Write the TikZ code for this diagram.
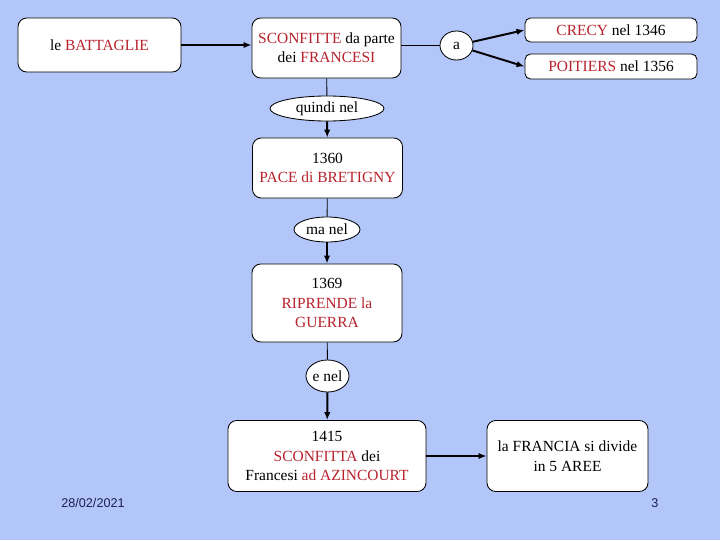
\documentclass[tikz,border=0pt]{standalone}
\usepackage{fontspec}
\setmainfont{Liberation Serif}
\newfontfamily\footfont{Liberation Sans}
\usetikzlibrary{arrows.meta,shapes.geometric}
\definecolor{slidebg}{RGB}{178,198,250}
\definecolor{dred}{RGB}{185,35,45}
\definecolor{footcol}{RGB}{30,30,80}
\newcommand{\rd}[1]{\textcolor{dred}{#1}}

\begin{document}
\begin{tikzpicture}[
      x=0.025cm, y=-0.025cm,
      font=\fontsize{11}{13.8}\selectfont,
      box/.style={draw, fill=white, rounded corners=0.22cm, align=center,
                  inner sep=1pt, line width=0.6pt},
      slim/.style={box, rounded corners=0.14cm},
      oval/.style={draw, fill=white, ellipse, inner sep=0pt, line width=0.6pt},
      flow/.style={-{Latex[length=2mm, width=1.6mm]}, line width=1.4pt},
      link/.style={line width=0.6pt},
      foot/.style={font=\footfont\fontsize{9}{11}\selectfont, text=footcol}
    ]
    % --- slide background ------------------------------------------------------
    \fill[slidebg] (0,0) rectangle (720,540);
    \useasboundingbox (0,0) rectangle (720,540);

    % --- top row ---------------------------------------------------------------
    \node[box, minimum width=4.075cm, minimum height=1.35cm] (batt) at (99.5,45)
      {le \rd{BATTAGLIE}};
    \node[box, minimum width=3.725cm, minimum height=1.5cm] (sconf) at (326.5,48)
      {\rd{SCONFITTE} da parte\\dei \rd{FRANCESI}};
    \node[oval, minimum width=0.825cm, minimum height=0.725cm] (a) at (456.5,45.5)
      {a};
    \node[slim, minimum width=4.3cm, minimum height=0.6cm] (crecy) at (611,30)
      {\rd{CRECY} nel 1346};
    \node[slim, minimum width=4.3cm, minimum height=0.625cm] (poit) at (611,66.5)
      {\rd{POITIERS} nel 1356};

    % --- vertical chain --------------------------------------------------------
    \node[oval, minimum width=2.85cm, minimum height=0.625cm] (quindi) at (327,108.5)
      {quindi nel};
    \node[box, minimum width=3.75cm, minimum height=1.5cm] (pace) at (327.5,168)
      {1360\\\rd{PACE di BRETIGNY}};
    \node[oval, minimum width=1.65cm, minimum height=0.625cm] (manel) at (327,229.5)
      {ma nel};
    \node[box, minimum width=3.75cm, minimum height=1.95cm] (ripr) at (327,303)
      {1369\\\rd{RIPRENDE la}\\\rd{GUERRA}};
    \node[oval, minimum width=1.075cm, minimum height=0.8cm] (enel) at (327.5,376)
      {e nel};
    \node[box, minimum width=4.95cm, minimum height=1.775cm] (azin) at (327,456)
      {1415\\\rd{SCONFITTA} dei\\Francesi \rd{ad AZINCOURT}};
    \node[box, minimum width=4.025cm, minimum height=1.775cm] (fran) at (567.5,456)
      {la FRANCIA si divide\\in 5 AREE};

    % --- connectors ------------------------------------------------------------
    \draw[flow] (batt) -- (batt -| sconf.west);
    \draw[link] (sconf.east |- a) -- (a);
    \draw[flow] (a) -- (crecy.west);
    \draw[flow] (a) -- (poit.west);
    \draw[link] (sconf) -- (quindi);
    \draw[flow] (quindi) -- (pace);
    \draw[link] (pace) -- (manel);
    \draw[flow] (manel) -- (ripr);
    \draw[link] (ripr) -- (enel);
    \draw[flow] (enel) -- (azin);
    \draw[flow] (azin) -- (fran);

    % --- footer ----------------------------------------------------------------
    \node[foot] (date) at (93,503) {28/02/2021};
    \node[foot] (page) at (655,503) {3};
\end{tikzpicture}
\end{document}
